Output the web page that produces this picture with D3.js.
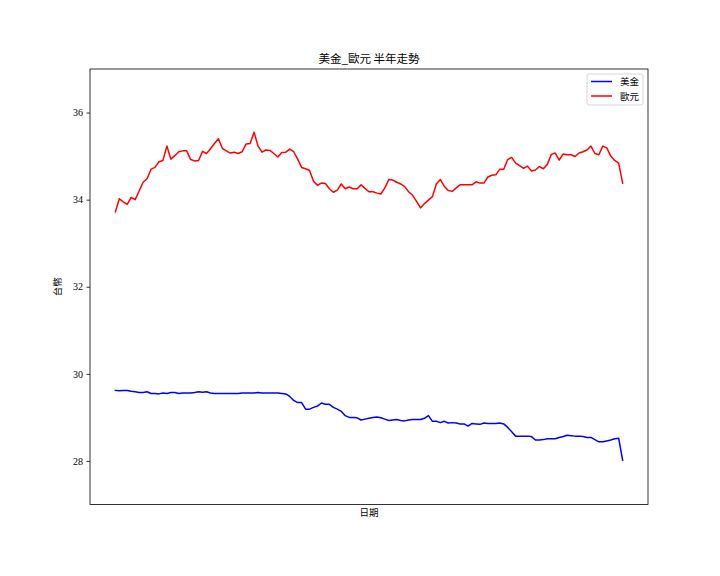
<!DOCTYPE html>
<html>
<head>
<meta charset="utf-8">
<script src="https://cdn.jsdelivr.net/npm/d3@7"></script>
<style>
  html, body { margin: 0; padding: 0; background: #fff; }
  svg text { font-family: "Liberation Serif", "Noto Sans CJK TC", serif; fill: #000; }
  .cjk { font-family: "Noto Sans CJK TC", sans-serif; }
</style>
</head>
<body>
<svg id="chart" width="720" height="576"></svg>
<script>
// chart data (one value per trading day)
const title = "美金_歐元 半年走勢";
const xLabel = "日期";
const yLabel = "台幣";
const seriesNames = ["美金", "歐元"];
const seriesColors = ["#0000ff", "#ff0000"];
const yTicks = [28, 30, 32, 34, 36];

const usd = [
  29.62, 29.61, 29.62, 29.62, 29.60, 29.59, 29.57, 29.57, 29.59, 29.55,
  29.55, 29.54, 29.56, 29.55, 29.57, 29.57, 29.55, 29.56, 29.56, 29.56,
  29.57, 29.59, 29.58, 29.59, 29.56, 29.55, 29.55, 29.55, 29.55, 29.55,
  29.55, 29.55, 29.56, 29.56, 29.56, 29.56, 29.57, 29.56, 29.56, 29.56,
  29.56, 29.56, 29.55, 29.54, 29.48, 29.39, 29.34, 29.34, 29.19, 29.19,
  29.23, 29.26, 29.33, 29.30, 29.30, 29.23, 29.19, 29.14, 29.04, 29.00,
  29.00, 28.99, 28.94, 28.96, 28.98, 29.00, 29.01, 28.99, 28.96, 28.93,
  28.94, 28.95, 28.93, 28.92, 28.94, 28.95, 28.95, 28.95, 28.98, 29.04,
  28.91, 28.91, 28.88, 28.91, 28.87, 28.88, 28.87, 28.85, 28.85, 28.80,
  28.86, 28.85, 28.84, 28.87, 28.86, 28.86, 28.86, 28.87, 28.85, 28.77,
  28.67, 28.57, 28.57, 28.57, 28.57, 28.56, 28.48, 28.48, 28.49, 28.51,
  28.51, 28.51, 28.54, 28.56, 28.59, 28.58, 28.57, 28.57, 28.56, 28.54,
  28.54, 28.49, 28.44, 28.44, 28.46, 28.48, 28.51, 28.52, 28.02
];

const eur = [
  33.72, 34.02, 33.95, 33.89, 34.05, 34.00, 34.20, 34.40, 34.48, 34.70,
  34.74, 34.87, 34.90, 35.23, 34.93, 35.01, 35.10, 35.12, 35.12, 34.92,
  34.89, 34.90, 35.11, 35.06, 35.17, 35.29, 35.40, 35.18, 35.12, 35.07,
  35.09, 35.06, 35.10, 35.28, 35.29, 35.55, 35.23, 35.09, 35.14, 35.13,
  35.06, 34.98, 35.08, 35.09, 35.16, 35.10, 34.93, 34.74, 34.71, 34.67,
  34.42, 34.33, 34.38, 34.37, 34.25, 34.17, 34.22, 34.36, 34.25, 34.29,
  34.25, 34.25, 34.34, 34.26, 34.18, 34.18, 34.15, 34.13, 34.27, 34.46,
  34.45, 34.40, 34.36, 34.30, 34.18, 34.10, 33.96, 33.81, 33.91, 33.99,
  34.07, 34.36, 34.46, 34.31, 34.21, 34.19, 34.27, 34.34, 34.34, 34.34,
  34.34, 34.41, 34.38, 34.38, 34.52, 34.56, 34.57, 34.70, 34.70, 34.92,
  34.97, 34.84, 34.78, 34.72, 34.77, 34.66, 34.68, 34.76, 34.71, 34.81,
  35.04, 35.07, 34.91, 35.05, 35.03, 35.03, 34.99, 35.07, 35.10, 35.14,
  35.23, 35.06, 35.03, 35.23, 35.19, 35.00, 34.90, 34.84, 34.38
];

// layout of the axes box inside the 720x576 figure
const margin = { left: 90, right: 648, top: 69, bottom: 504.5 };
const svg = d3.select("#chart");

// x is just the day index, padded 5% each side like matplotlib does
const n = usd.length;
const pad = (n - 1) * 0.05;
const x_scale = d3.scaleLinear().domain([-pad, n - 1 + pad]).range([margin.left, margin.right]);
const y_scale = d3.scaleLinear().domain([27, 37]).range([margin.bottom, margin.top]);

const line = d3.line()
  .x((d, i) => x_scale(i))
  .y(d => y_scale(d));

// lines
[usd, eur].forEach((values, idx) => {
  svg.append("path")
    .datum(values)
    .attr("d", line)
    .attr("fill", "none")
    .attr("stroke", seriesColors[idx])
    .attr("stroke-width", 1.5)
    .attr("stroke-linejoin", "round")
    .attr("stroke-linecap", "square");
});

// y axis with matplotlib-ish outward ticks
const yAxis = d3.axisLeft(y_scale).tickValues(yTicks).tickSize(3.5).tickPadding(3.5);
const yG = svg.append("g").attr("transform", `translate(${margin.left},0)`).call(yAxis);
yG.select(".domain").remove();
yG.selectAll(".tick line").attr("stroke", "#000").attr("stroke-width", 0.8);
yG.selectAll(".tick text").attr("font-size", 10).attr("font-family", null);

// frame around the plot
svg.append("rect")
  .attr("x", margin.left)
  .attr("y", margin.top)
  .attr("width", margin.right - margin.left)
  .attr("height", margin.bottom - margin.top)
  .attr("fill", "none")
  .attr("stroke", "#000")
  .attr("stroke-width", 0.8);

// title and axis labels
svg.append("text")
  .attr("class", "cjk")
  .attr("x", (margin.left + margin.right) / 2)
  .attr("y", 63)
  .attr("text-anchor", "middle")
  .attr("font-size", 11.5)
  .text(title);

svg.append("text")
  .attr("class", "cjk")
  .attr("x", (margin.left + margin.right) / 2)
  .attr("y", 516)
  .attr("text-anchor", "middle")
  .attr("font-size", 9.5)
  .text(xLabel);

svg.append("text")
  .attr("class", "cjk")
  .attr("transform", `translate(61,${(margin.top + margin.bottom) / 2}) rotate(-90)`)
  .attr("text-anchor", "middle")
  .attr("font-size", 9.5)
  .text(yLabel);

// legend in the upper right corner
const legend = svg.append("g").attr("transform", "translate(587,74)");
legend.append("rect")
  .attr("width", 56)
  .attr("height", 31)
  .attr("rx", 2)
  .attr("fill", "#fff")
  .attr("fill-opacity", 0.8)
  .attr("stroke", "#cccccc")
  .attr("stroke-width", 0.8);

seriesNames.forEach((name, i) => {
  const row = legend.append("g").attr("transform", `translate(0,${7.5 + i * 14.5})`);
  row.append("line")
    .attr("x1", 4).attr("x2", 25)
    .attr("stroke", seriesColors[i])
    .attr("stroke-width", 1.5);
  row.append("text")
    .attr("class", "cjk")
    .attr("x", 33)
    .attr("y", 3.5)
    .attr("font-size", 9.5)
    .text(name);
});
</script>
</body>
</html>
